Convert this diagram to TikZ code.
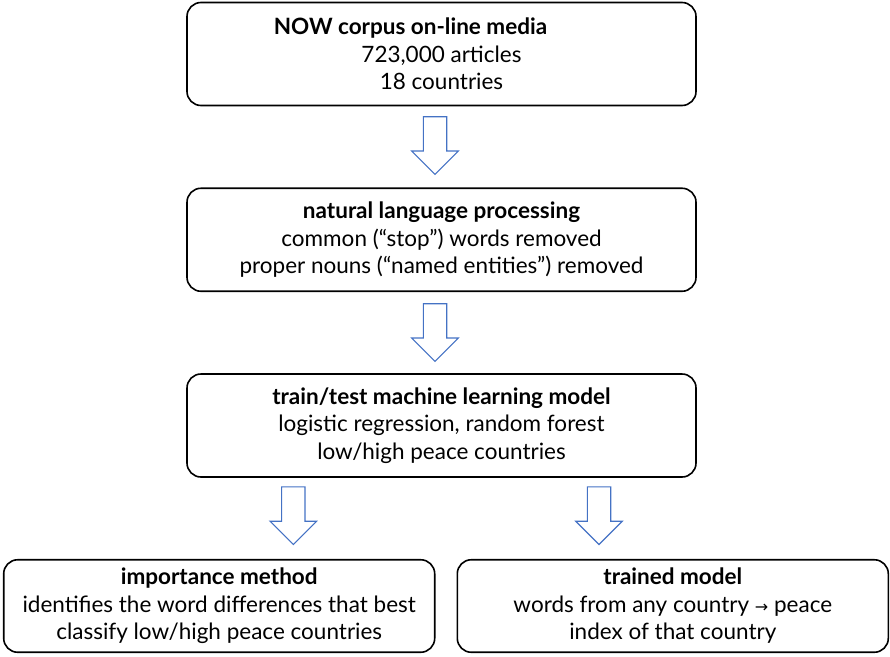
\documentclass[tikz,border=0pt]{standalone}
\usepackage{fontspec}
\setmainfont{Lato}
\newfontfamily\arrowfont{DejaVu Sans}
\usetikzlibrary{positioning}
\definecolor{arrowblue}{HTML}{4472C4}

\begin{document}
\begin{tikzpicture}[x=1pt,y=-1pt,on grid,
    box/.style={draw,rounded corners=14pt,line width=1.6pt,align=center,
                inner sep=0pt,font=\fontsize{22.5}{27.5}\selectfont},
    bigbox/.style={box,minimum width=509pt,minimum height=103pt},
    leafbox/.style={box,minimum width=431pt,minimum height=92.5pt},
    downarrow/.pic={\draw[arrowblue,line width=1.1pt,line join=miter]
        (-11.7,-28.8) -- (11.7,-28.8) -- (11.7,5.5) -- (23.3,5.5)
        -- (0,28.8) -- (-23.3,5.5) -- (-11.7,5.5) -- cycle;}]
    \useasboundingbox (0,0) rectangle (890,656);

    \node[bigbox]  (now)   at (441.5,54)      {\textbf{NOW corpus on-line media}\hspace*{62pt}\\723,000 articles\\18 countries};
    \node[bigbox]  (nlp)   [below=185.75pt of now] {\textbf{natural language processing}\\common (“stop”) words removed\\proper nouns (“named entities”) removed};
    \node[bigbox]  (train) [below=185.75pt of nlp] {\textbf{train/test machine learning model}\\logistic regression, random forest\\low/high peace countries};
    \node[leafbox] (imp)   [below left=180.5pt and 222.3pt of train]  {\textbf{importance method}\\identifies the word differences that best\\classify low/high peace countries};
    \node[leafbox] (model) [below right=180.5pt and 231.3pt of train] {\textbf{trained model}\\words from any country {\arrowfont\fontsize{16}{27}\selectfont →} peace\\index of that country};

    \pic at (435,145.5)   {downarrow};
    \pic at (435,332.5)   {downarrow};
    \pic at (293.3,515.7) {downarrow};
    \pic at (599,515.7)   {downarrow};

\end{tikzpicture}
\end{document}
